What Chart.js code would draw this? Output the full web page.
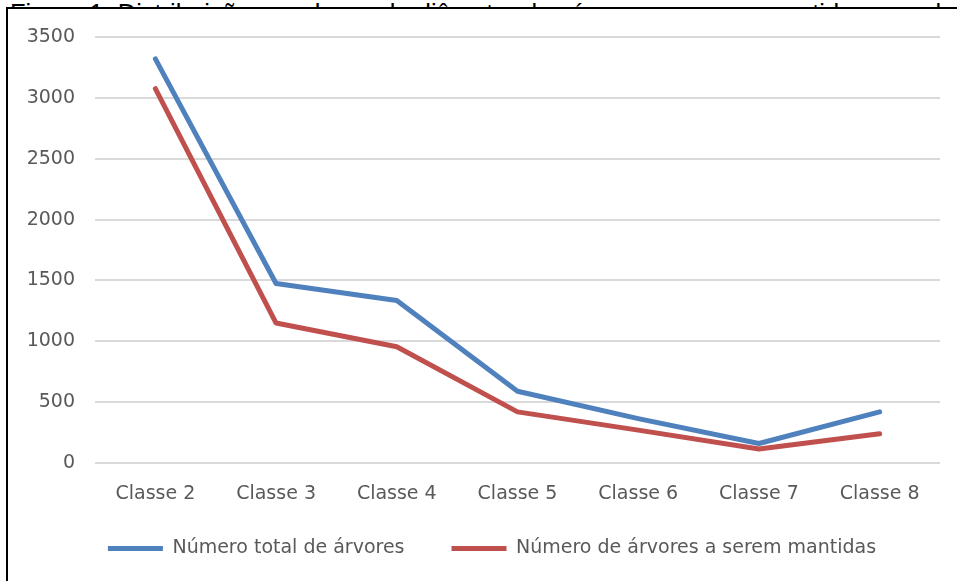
<!DOCTYPE html>
<html>
<head>
<meta charset="utf-8">
<script src="https://cdn.jsdelivr.net/npm/chart.js@4"></script>
<style>
    html, body { margin: 0; padding: 0; background: #fff; overflow: hidden; }
    #page { position: relative; width: 957px; height: 581px; overflow: hidden; }
    #title { position: absolute; left: 10px; top: 0px; white-space: nowrap; font: 25.5px "Liberation Sans", Arial, sans-serif; line-height: 26px; color: #000; }
    #frame { position: absolute; left: 6px; top: 7px; width: 1000px; height: 1000px; border: 2px solid #000; background: #fff; }
    #wrap { position: absolute; left: 0; top: 0; width: 957px; height: 581px; }
</style>
</head>
<body>
<div id="page">
    <div id="title">Figura 1: Distribuição por classe de diâmetro das árvores a serem mantidas e exploradas</div>
    <div id="frame"></div>
    <div id="wrap"><canvas id="chart-arvores"></canvas></div>
</div>
<script>
var classes = ['Classe 2', 'Classe 3', 'Classe 4', 'Classe 5', 'Classe 6', 'Classe 7', 'Classe 8'];
var totalArvores = [3320, 1475, 1335, 590, 365, 160, 420];
var arvoresMantidas = [3075, 1150, 955, 420, 270, 115, 240];
var yTicks = [0, 500, 1000, 1500, 2000, 2500, 3000, 3500];

drawArvoresChart();

function drawArvoresChart() {

    var labelFont = { family: '"DejaVu Sans", sans-serif', size: 19 };

    // move the legend row a bit (up, and right so it centres under the plot)
    var legendShift = {
        id: 'legendShift',
        afterLayout: function (chart) {
            var lg = chart.legend;
            lg.left += 22; lg.right += 22;
            lg.top -= 16; lg.bottom -= 16;
        }
    };

    new Chart(
        document.getElementById('chart-arvores'),
        {
            type: 'line',
            data: {
                labels: classes,
                datasets: [
                    {
                        label: 'Número total de árvores',
                        data: totalArvores,
                        borderColor: '#4F81BD',
                        backgroundColor: '#4F81BD',
                        borderWidth: 5,
                        borderCapStyle: 'round',
                        borderJoinStyle: 'round',
                        pointRadius: 0,
                        tension: 0
                    },
                    {
                        label: 'Número de árvores a serem mantidas',
                        data: arvoresMantidas,
                        borderColor: '#C0504D',
                        backgroundColor: '#C0504D',
                        borderWidth: 5,
                        borderCapStyle: 'round',
                        borderJoinStyle: 'round',
                        pointRadius: 0,
                        tension: 0
                    }
                ]
            },
            options: {
                maintainAspectRatio: false,
                responsive: true,
                animation: false,
                layout: { padding: { left: 0, right: 17, top: 37, bottom: 0 } },
                scales: {
                    x: {
                        offset: true,
                        grid: { display: false, drawTicks: false },
                        border: { display: false },
                        ticks: { color: '#595959', font: labelFont, padding: 20, maxRotation: 0 },
                        afterFit: function (scale) { scale.height = 45; }
                    },
                    y: {
                        min: 0,
                        max: 3500,
                        afterBuildTicks: function (scale) { scale.ticks = yTicks.map(v => ({ value: v })); },
                        grid: { color: '#d9d9d9', lineWidth: 2, drawTicks: false },
                        border: { display: false },
                        ticks: {
                            color: '#595959',
                            font: labelFont,
                            padding: 20,
                            callback: function (value) { return String(value); }
                        },
                        afterFit: function (scale) { scale.width = 95; }
                    }
                },
                plugins: {
                    legend: {
                        position: 'bottom',
                        maxHeight: 73,
                        labels: {
                            color: '#595959',
                            font: labelFont,
                            usePointStyle: true,
                            pointStyle: 'line',
                            pointStyleWidth: 55,
                            padding: 47
                        }
                    },
                    tooltip: { enabled: false }
                }
            },
            plugins: [legendShift]
        }
    );

}
</script>
</body>
</html>
